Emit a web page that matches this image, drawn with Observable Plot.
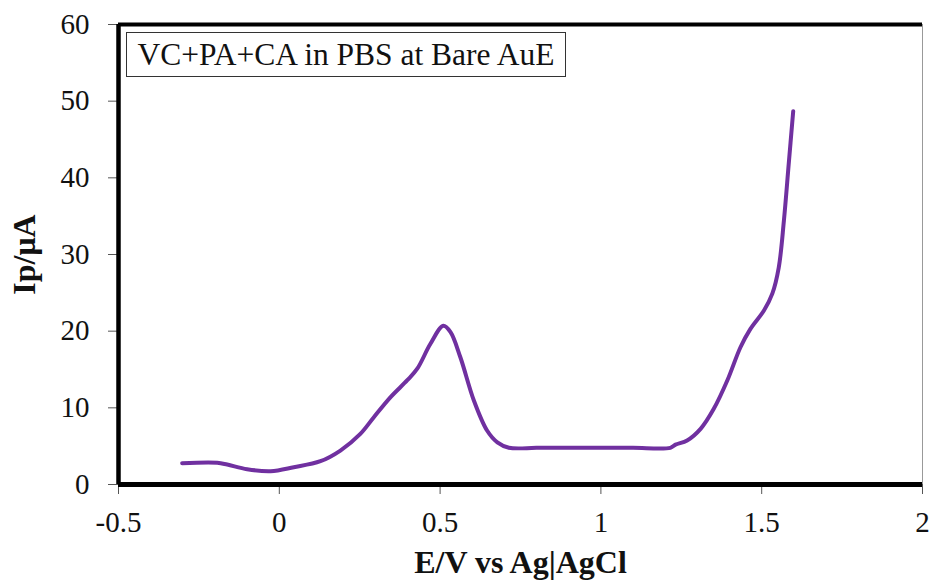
<!DOCTYPE html>
<html>
<head>
<meta charset="utf-8">
<script src="https://cdn.jsdelivr.net/npm/d3@7"></script>
<script src="https://cdn.jsdelivr.net/npm/@observablehq/plot@0.6"></script>
<style>
  html, body { margin: 0; padding: 0; background: #fff; }
  #wrap { position: relative; width: 934px; height: 582px; }
  #wrap svg, #wrap svg text { font-family: "Liberation Serif" !important; }
  #note {
    position: absolute; left: 126px; top: 32px; width: 438px; height: 43px;
    border: 1.5px solid #333;
    font-family: "Liberation Serif"; font-size: 31.5px;
    line-height: 43px; text-align: center; color: #111; white-space: nowrap;
  }
</style>
</head>
<body>
<div id="wrap"></div>
<script>
// Potential (V vs Ag|AgCl)
const potential = [-0.302, -0.193, -0.162, -0.100, -0.027, 0.045, 0.128, 0.190, 0.252, 0.294,
  0.346, 0.398, 0.429, 0.470, 0.510, 0.532, 0.563, 0.605, 0.646, 0.678,
  0.714, 0.800, 0.900, 1.000, 1.100, 1.216, 1.232, 1.268, 1.310, 1.351,
  1.393, 1.434, 1.465, 1.507, 1.533, 1.553, 1.569, 1.584, 1.598];
// Peak current (µA)
const current = [2.78, 2.83, 2.60, 2.00, 1.74, 2.26, 3.04, 4.43, 6.60, 8.78,
  11.4, 13.6, 15.1, 18.35, 20.7, 19.9, 16.6, 10.96, 7.04, 5.5,
  4.8, 4.78, 4.78, 4.78, 4.78, 4.78, 5.2, 5.74, 7.26, 9.87,
  13.56, 17.9, 20.3, 22.7, 24.9, 28.3, 34.4, 41.8, 48.7];
const xTicks = [-0.5, 0, 0.5, 1, 1.5, 2];
const yTicks = [0, 10, 20, 30, 40, 50, 60];
const xTickLabels = ["-0.5", "0", "0.5", "1", "1.5", "2"];
const seriesLabel = "VC+PA+CA in PBS at Bare AuE";

const data = potential.map((e, i) => ({e, i: current[i]}));
const serif = "Liberation Serif";

const chart = Plot.plot({
  width: 934,
  height: 582,
  marginLeft: 118,
  marginRight: 12,
  marginTop: 24,
  marginBottom: 98,
  style: {fontFamily: serif, fontSize: "29px", color: "#111", background: "#fff", overflow: "visible"},
  x: {domain: [-0.5, 2]},
  y: {domain: [0, 60]},
  marks: [
    Plot.axisX({ticks: xTicks, tickFormat: (d) => xTickLabels[xTicks.indexOf(d)], tickSize: 10, tickPadding: 17,
      stroke: "#555", fontSize: 29, fill: "#111", label: null}),
    Plot.axisY({ticks: yTicks, tickSize: 10, tickPadding: 19, stroke: "#555", fontSize: 29, fill: "#111", label: null}),
    Plot.ruleX([2], {stroke: "#999", strokeWidth: 1}),
    Plot.ruleY([60], {stroke: "#000", strokeWidth: 4}),
    Plot.ruleX([-0.5], {stroke: "#000", strokeWidth: 4.5}),
    Plot.ruleY([0], {stroke: "#000", strokeWidth: 5}),
    Plot.line(data, {x: "e", y: "i", stroke: "#7030A0", strokeWidth: 4, curve: "catmull-rom",
      strokeLinecap: "round", strokeLinejoin: "round"}),
    Plot.text(["E/V vs Ag|AgCl"], {frameAnchor: "bottom", dy: 88, fontSize: 32, fontWeight: "bold", fill: "#111",
      textAnchor: "middle"}),
    Plot.text(["Ip/μA"], {frameAnchor: "left", dx: -94, rotate: -90, fontSize: 32, fontWeight: "bold", fill: "#111",
      textAnchor: "middle", lineAnchor: "middle"})
  ]
});

const wrap = document.getElementById("wrap");
wrap.appendChild(chart);
const note = document.createElement("div");
note.id = "note";
note.textContent = seriesLabel;
wrap.appendChild(note);
</script>
</body>
</html>
